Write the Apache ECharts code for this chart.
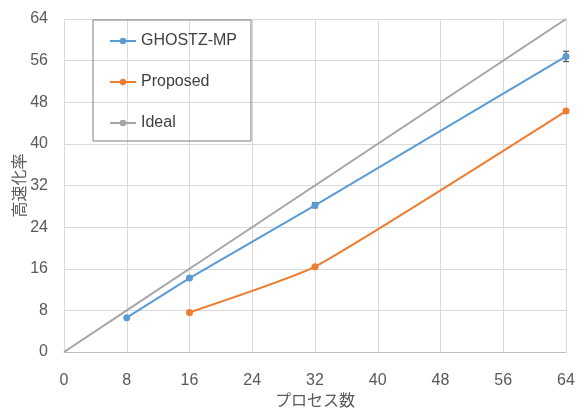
<!DOCTYPE html>
<html><head><meta charset="utf-8">
<script src="https://cdn.jsdelivr.net/npm/echarts@6/dist/echarts.min.js"></script>
<style>html,body{margin:0;padding:0;background:#fff}#c{width:577px;height:408px}</style>
</head><body><div id="c"></div>
<script>
const xTicks = [0, 8, 16, 24, 32, 40, 48, 56, 64];
const ghostzX = [8, 16, 32, 64];
const ghostzY = [6.6, 14.2, 28.2, 56.8];
const ghostzErr = [0, 0, 0.5, 1.0];
const proposedX = [16, 32, 64];
const proposedY = [7.6, 16.4, 46.3];
const idealX = [0, 8, 16, 32, 64];
const idealY = [0, 8, 16, 32, 64];

const zip = (a, b) => a.map((v, i) => [v, b[i]]);
const errData = ghostzX.map((x, i) => [x, ghostzY[i] - ghostzErr[i], ghostzY[i] + ghostzErr[i]]).filter((d, i) => ghostzErr[i] > 0);

const font = '"Liberation Sans", "Noto Sans CJK JP", sans-serif';
const chart = echarts.init(document.getElementById('c'));
chart.setOption({
  animation: false,
  grid: { left: 64, right: 11, top: 19, bottom: 56, outerBoundsMode: 'none', containLabel: false },
  legend: {
    data: ['GHOSTZ-MP', 'Proposed', 'Ideal'],
    orient: 'vertical', left: 93, top: 20,
    padding: [13, 14, 10, 16],
    itemGap: 25, itemWidth: 26, itemHeight: 8,
    borderColor: '#7f7f7f', borderWidth: 1,
    textStyle: { fontSize: 16, color: '#404040', fontFamily: font }
  },
  xAxis: {
    type: 'value', min: 0, max: 64, interval: 8,
    name: 'プロセス数', nameLocation: 'middle', nameGap: 38,
    nameTextStyle: { fontSize: 16, color: '#595959', fontFamily: font },
    axisLine: { lineStyle: { color: '#bfbfbf' } },
    axisTick: { show: false },
    axisLabel: { fontSize: 16, color: '#595959', fontFamily: font, margin: 21 },
    splitLine: { lineStyle: { color: '#d9d9d9' } }
  },
  yAxis: {
    type: 'value', min: 0, max: 64, interval: 8,
    name: '高速化率', nameLocation: 'middle', nameGap: 35, nameMoveOverlap: false,
    nameTextStyle: { fontSize: 16, color: '#595959', fontFamily: font },
    axisLine: { show: false },
    axisTick: { show: false },
    axisLabel: { fontSize: 16, color: '#595959', fontFamily: font, margin: 16 },
    splitLine: { lineStyle: { color: '#d9d9d9' } }
  },
  series: [
    { name: 'Ideal', type: 'line', data: zip(idealX, idealY), showSymbol: false, symbol: 'circle', symbolSize: 7,
      itemStyle: { color: '#a5a5a5' }, lineStyle: { width: 2, color: '#a5a5a5' } },
    { name: 'GHOSTZ-MP', type: 'line', data: zip(ghostzX, ghostzY), symbol: 'circle', symbolSize: 7,
      itemStyle: { color: '#5b9bd5' }, lineStyle: { width: 2, color: '#5b9bd5' } },
    { name: 'Proposed', type: 'line', data: zip(proposedX, proposedY), symbol: 'circle', symbolSize: 7, smooth: 0.15,
      itemStyle: { color: '#ed7d31' }, lineStyle: { width: 2, color: '#ed7d31' } },
    { name: 'err', type: 'custom', data: errData, z: 1,
      renderItem: function (params, api) {
        const lo = api.coord([api.value(0), api.value(1)]);
        const hi = api.coord([api.value(0), api.value(2)]);
        const w = 3;
        const st = { stroke: '#404040', lineWidth: 1 };
        return { type: 'group', children: [
          { type: 'line', shape: { x1: hi[0], y1: hi[1], x2: lo[0], y2: lo[1] }, style: st },
          { type: 'line', shape: { x1: hi[0] - w, y1: hi[1], x2: hi[0] + w, y2: hi[1] }, style: st },
          { type: 'line', shape: { x1: lo[0] - w, y1: lo[1], x2: lo[0] + w, y2: lo[1] }, style: st }
        ]};
      }
    }
  ]
});
</script></body></html>
